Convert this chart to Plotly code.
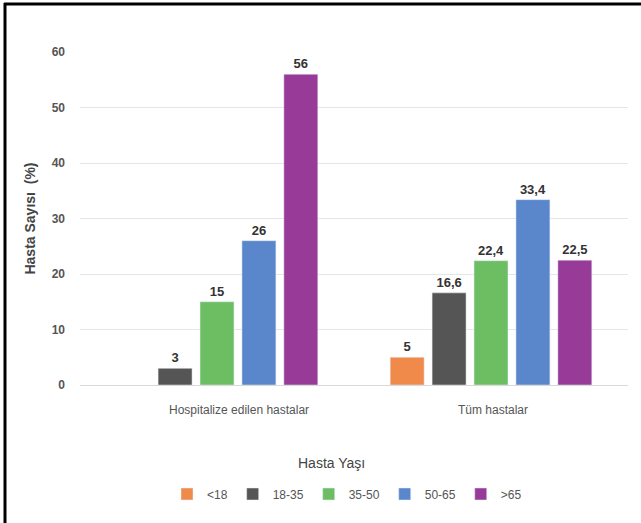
import plotly.graph_objects as go

categories = ["Hospitalize edilen hastalar", "Tüm hastalar"]
age_groups = ["<18", "18-35", "35-50", "50-65", ">65"]
values = {
    "<18": [None, 5],
    "18-35": [3, 16.6],
    "35-50": [15, 22.4],
    "50-65": [26, 33.4],
    ">65": [56, 22.5],
}
colors = ["#F08A4B", "#555555", "#6DBE63", "#5A87CC", "#973A98"]
y_ticks = [0, 10, 20, 30, 40, 50, 60]

FONT = "Liberation Sans Narrow, Arial Narrow, Liberation Sans, Arial"

fig = go.Figure()
for grp, col in zip(age_groups, colors):
    vals = values[grp]
    txt = ["" if v is None else str(v).replace(".", ",") for v in vals]
    fig.add_trace(go.Bar(
        name=grp, x=categories, y=vals, marker_color=col,
        text=txt, textposition="outside", cliponaxis=False,
        textfont=dict(family=FONT, size=13, color="#333333", weight="bold"),
    ))

# category labels as annotations (first one visually offset in reference)
label_shift = [22, 2]
for cat, sh in zip(categories, label_shift):
    fig.add_annotation(x=cat, y=0, xref="x", yref="y", text=cat, showarrow=False,
                       yshift=-25, xshift=sh,
                       font=dict(family=FONT, size=12, color="#555555"))

L, R, T, B = 80, 13, 52, 138
W, H = 641, 523
pw, ph = W - L - R, H - T - B
def px_x(p):
    return (p - L) / pw
def px_y(p):
    return (H - B - p) / ph

# legend title
fig.add_annotation(xref="paper", yref="paper", x=px_x(331), y=px_y(463),
                   text="Hasta Yaşı", showarrow=False, xanchor="center", yanchor="middle",
                   font=dict(family=FONT, size=14, color="#444444"))

# page frame (top and left lines)
fig.add_shape(type="line", xref="paper", yref="paper",
              x0=px_x(4), x1=px_x(641), y0=px_y(4), y1=px_y(4),
              line=dict(color="black", width=3))
fig.add_shape(type="line", xref="paper", yref="paper",
              x0=px_x(5), x1=px_x(5), y0=px_y(3), y1=px_y(523),
              line=dict(color="black", width=3))

fig.update_layout(
    width=W, height=H,
    margin=dict(l=L, r=R, t=T, b=B),
    paper_bgcolor="white", plot_bgcolor="white",
    barmode="group", bargap=0.235, bargroupgap=0.19,
    font=dict(family=FONT, color="#555555"),
    showlegend=True,
    legend=dict(
        orientation="h", x=px_x(347), xanchor="center", y=px_y(494), yanchor="middle",
        font=dict(family=FONT, size=12, color="#555555"),
        itemwidth=30, tracegroupgap=0,
    ),
    xaxis=dict(showticklabels=False, showgrid=False, showline=False, ticks="",
               range=[-0.5, 1.5]),
    yaxis=dict(range=[0, 60], tickvals=y_ticks, showgrid=True, gridcolor="#E6E6E6",
               gridwidth=1, zeroline=True, zerolinecolor="#D9D9D9", zerolinewidth=1,
               showline=False, ticks="", ticklabelstandoff=14,
               tickfont=dict(family=FONT, size=12, color="#555555", weight="bold"),
               title=dict(text="Hasta Sayısı  (%)", standoff=12,
                          font=dict(family=FONT, size=14, color="#444444", weight="bold"))),
)

fig.write_html("out.html")
